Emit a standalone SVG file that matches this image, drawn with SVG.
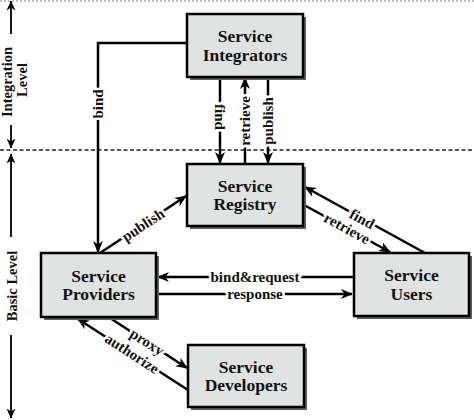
<svg xmlns="http://www.w3.org/2000/svg" width="474" height="420" viewBox="0 0 474 420">
<defs>
<marker id="ah" markerWidth="12" markerHeight="10" refX="11" refY="5" orient="auto" markerUnits="userSpaceOnUse"><path d="M0,0 L12,5 L0,10 L3.5,5 z" fill="#000"/></marker>
<marker id="ahs" markerWidth="10" markerHeight="9" refX="9.5" refY="4.5" orient="auto" markerUnits="userSpaceOnUse"><path d="M0,0 L10,4.5 L0,9 L3,4.5 z" fill="#000"/></marker>
</defs>
<style>
.shadow{fill:#5e5e5e}
.box{fill:#dfe3e2;stroke:#000;stroke-width:2.5}
.bt{font-family:"Liberation Serif","Times New Roman",serif;font-weight:bold;font-size:17.5px;text-anchor:middle;fill:#111}
.lbl{font-family:"Liberation Serif","Times New Roman",serif;font-weight:bold;font-size:15px;text-anchor:middle;fill:#111;stroke:#fff;stroke-width:5;paint-order:stroke;stroke-linejoin:round}
.ax{font-family:"Liberation Serif","Times New Roman",serif;font-weight:bold;font-size:14.5px;text-anchor:middle;fill:#111}
.c{fill:none;stroke:#000;stroke-width:2.5}
.a{fill:none;stroke:#000;stroke-width:1.8}
</style>
<rect width="474" height="420" fill="#fff"/>
<g id="levels">
<line x1="0" y1="1" x2="474" y2="1" stroke="#aaa" stroke-width="1.5" stroke-dasharray="2 2"/>
<line x1="0" y1="150" x2="474" y2="150" stroke="#222" stroke-width="1.3" stroke-dasharray="4 2.5"/>
<line class="a" x1="11" y1="34" x2="11" y2="1" marker-end="url(#ahs)"/>
<line class="a" x1="11" y1="125" x2="11" y2="148" marker-end="url(#ahs)"/>
<text class="ax" transform="translate(12,82) rotate(-90)" y="0">Integration</text>
<text class="ax" transform="translate(26.5,80) rotate(-90)" y="0">Level</text>
<line class="a" x1="11" y1="237" x2="11" y2="154" marker-end="url(#ahs)"/>
<line class="a" x1="11" y1="335" x2="11" y2="418" marker-end="url(#ahs)"/>
<text class="ax" transform="translate(17,286) rotate(-90)" y="0">Basic Level</text>
</g>
<g id="connectors">
<polyline class="c" points="187,43 98,43 98,252" marker-end="url(#ah)"/>
<text class="lbl" transform="translate(98,104) rotate(-90)" y="5">bind</text>
<line class="c" x1="220" y1="77" x2="220" y2="163" marker-end="url(#ah)"/>
<text class="lbl" transform="translate(220,117) rotate(90)" y="5">find</text>
<line class="c" x1="245" y1="164" x2="245" y2="78" marker-end="url(#ah)"/>
<text class="lbl" transform="translate(245,121) rotate(-90)" y="5">retrieve</text>
<line class="c" x1="268" y1="77" x2="268" y2="163" marker-end="url(#ah)"/>
<text class="lbl" transform="translate(268,121) rotate(-90)" y="5">publish</text>
<line class="c" x1="100" y1="253" x2="186" y2="196" marker-end="url(#ah)"/>
<text class="lbl" transform="translate(143,225) rotate(-33.5)" y="5">publish</text>
<line class="c" x1="425" y1="253" x2="305" y2="187" marker-end="url(#ah)"/>
<text class="lbl" transform="translate(362,219) rotate(28.6)" y="5">find</text>
<line class="c" x1="304" y1="205" x2="390" y2="252" marker-end="url(#ah)"/>
<text class="lbl" transform="translate(347,228.5) rotate(28.7)" y="5">retrieve</text>
<line class="c" x1="354" y1="277" x2="158" y2="277" marker-end="url(#ah)"/>
<text class="lbl" x="255" y="282">bind&amp;request</text>
<line class="c" x1="156" y1="294" x2="352" y2="294" marker-end="url(#ah)"/>
<text class="lbl" x="255" y="299">response</text>
<line class="c" x1="110" y1="318" x2="187" y2="368" marker-end="url(#ah)"/>
<text class="lbl" transform="translate(147,342) rotate(32.7)" y="5">proxy</text>
<line class="c" x1="188" y1="390" x2="78" y2="319" marker-end="url(#ah)"/>
<text class="lbl" transform="translate(132,353.5) rotate(33)" y="5">authorize</text>
</g>
<g id="integrators">
<rect class="shadow" x="190" y="17" width="116" height="63"/>
<rect class="box" x="187" y="14" width="116" height="63"/>
<text class="bt" x="245" y="42">Service</text>
<text class="bt" x="245" y="60.5">Integrators</text>
</g>
<g id="registry">
<rect class="shadow" x="190" y="167" width="116" height="62"/>
<rect class="box" x="187" y="164" width="116" height="62"/>
<text class="bt" x="245" y="191.5">Service</text>
<text class="bt" x="245" y="210">Registry</text>
</g>
<g id="providers">
<rect class="shadow" x="44" y="256" width="115" height="64"/>
<rect class="box" x="41" y="253" width="115" height="64"/>
<text class="bt" x="98.5" y="281.5">Service</text>
<text class="bt" x="98.5" y="300">Providers</text>
</g>
<g id="users">
<rect class="shadow" x="357" y="256" width="115" height="63"/>
<rect class="box" x="354" y="253" width="115" height="63"/>
<text class="bt" x="411.5" y="281">Service</text>
<text class="bt" x="411.5" y="299.5">Users</text>
</g>
<g id="developers">
<rect class="shadow" x="191" y="348" width="116" height="62"/>
<rect class="box" x="188" y="345" width="116" height="62"/>
<text class="bt" x="246" y="372.5">Service</text>
<text class="bt" x="246" y="391">Developers</text>
</g>
</svg>
